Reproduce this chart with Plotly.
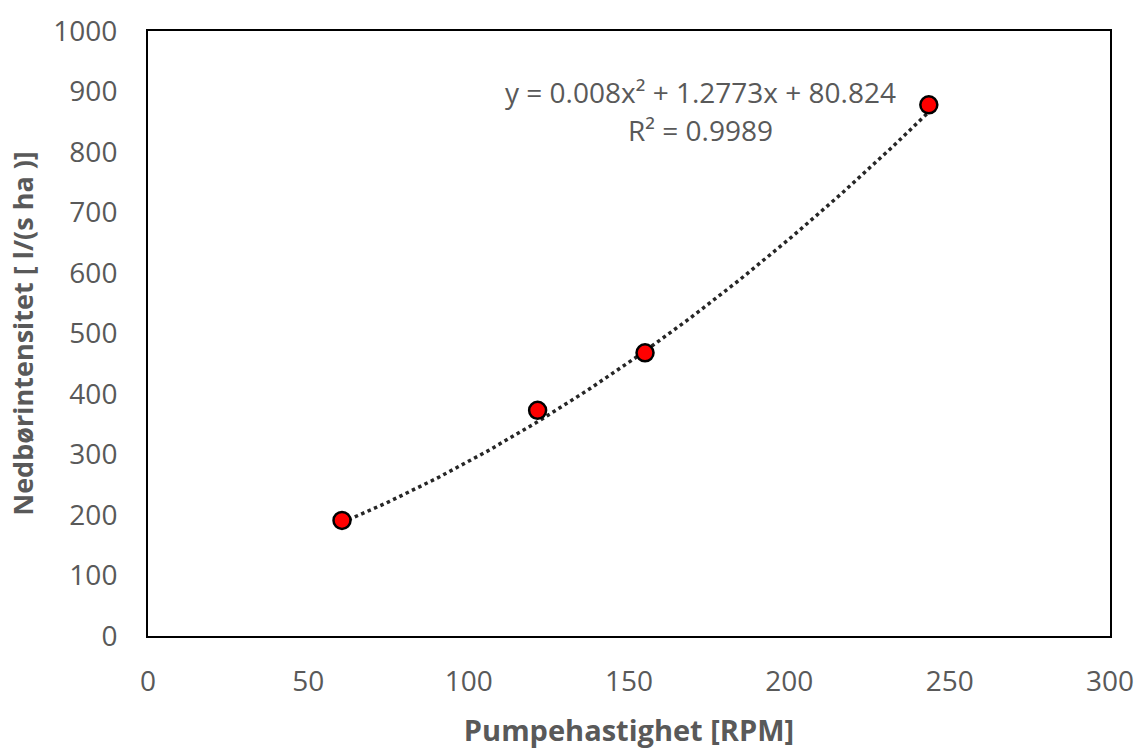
import numpy as np
import plotly.graph_objects as go

# Data
rpm = [60.5, 121.5, 155, 243.5]
intensity = [191, 373, 468, 878]

# Trendline coefficients as displayed (y = a x^2 + b x + c)
coef_a, coef_b, coef_c = 0.008, 1.2773, 80.824
eq_line1 = "y = 0.008x² + 1.2773x + 80.824"
eq_line2 = "R² = 0.9989"

x_ticks = [0, 50, 100, 150, 200, 250, 300]
y_ticks = [0, 100, 200, 300, 400, 500, 600, 700, 800, 900, 1000]

xt = np.linspace(min(rpm), max(rpm), 200)
yt = coef_a * xt**2 + coef_b * xt + coef_c

grey = "#595959"
font_family = "Open Sans, Liberation Sans, sans-serif"

W, H = 1137, 749
ML, MR, MT, MB = 148, 27, 31, 113
PW, PH = W - ML - MR, H - MT - MB


def px_to_paper(xp, yp):
    return (xp - ML) / PW, 1 - (yp - MT) / PH


fig = go.Figure()
fig.add_trace(go.Scatter(
    x=xt, y=yt, mode="lines",
    line=dict(color="#262626", width=3.5, dash="dot"),
    hoverinfo="skip", showlegend=False))
fig.add_trace(go.Scatter(
    x=rpm, y=intensity, mode="markers",
    marker=dict(color="#ff0000", size=17, line=dict(color="black", width=2.5)),
    showlegend=False))

for txt, (xp, yp) in [(eq_line1, (700, 92)), (eq_line2, (700, 130))]:
    ax, ay = px_to_paper(xp, yp)
    fig.add_annotation(
        x=ax, y=ay, xref="paper", yref="paper", xanchor="center", yanchor="middle",
        text=txt, showarrow=False, align="center",
        font=dict(family=font_family, size=28, color=grey))

fig.update_layout(
    width=W, height=H,
    margin=dict(l=ML, r=MR, t=MT, b=MB),
    paper_bgcolor="white", plot_bgcolor="white",
    font=dict(family=font_family, color=grey, size=28),
    showlegend=False,
)

fig.update_xaxes(
    range=[0, 300], tickvals=x_ticks, showgrid=False, zeroline=False,
    showline=True, linecolor="black", linewidth=2, mirror=True,
    ticks="outside", ticklen=19, tickcolor="rgba(0,0,0,0)", automargin=False,
    tickfont=dict(size=28, color=grey, family=font_family),
    title=dict(text="<b>Pumpehastighet [RPM]</b>", standoff=30,
               font=dict(size=29, color=grey, family=font_family)))
fig.update_yaxes(
    range=[0, 1000], tickvals=y_ticks, showgrid=False, zeroline=False,
    showline=True, linecolor="black", linewidth=2, mirror=True,
    ticks="outside", ticklen=23, tickcolor="rgba(0,0,0,0)", automargin=False,
    tickfont=dict(size=28, color=grey, family=font_family),
    title=dict(text="<b>Nedbørintensitet [ l/(s ha )]</b>", standoff=12,
               font=dict(size=27, color=grey, family=font_family)))

fig.write_html(
    "out.html",
    config={"displayModeBar": False},
    post_script="document.body.style.margin='0';document.body.style.overflow='hidden';",
)
